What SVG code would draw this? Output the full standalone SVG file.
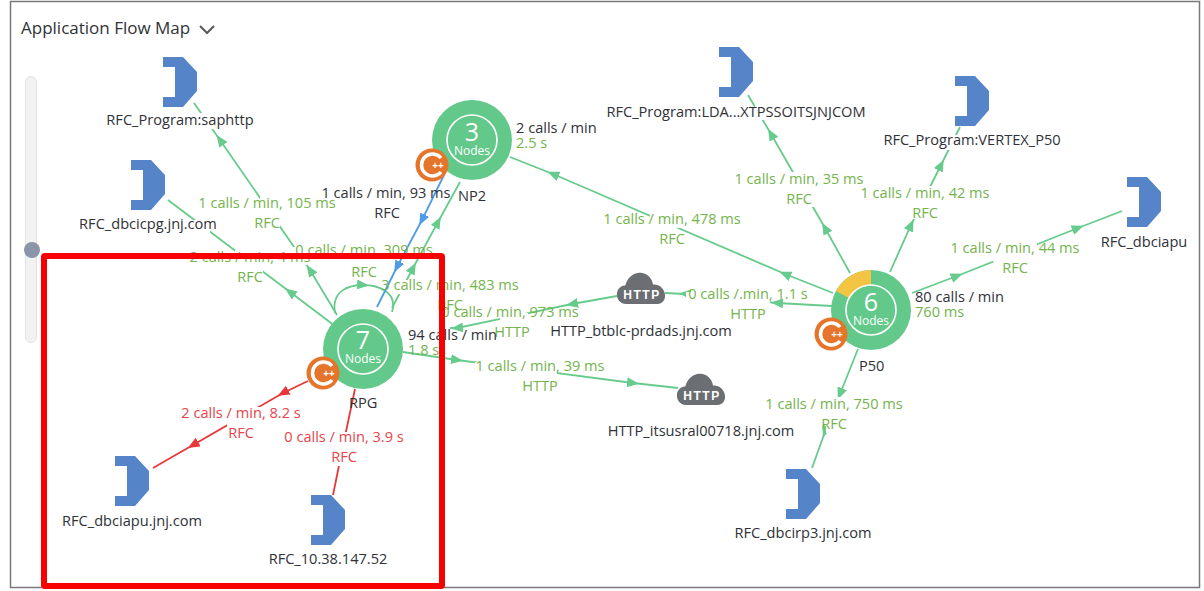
<svg xmlns="http://www.w3.org/2000/svg" width="1204" height="591" viewBox="0 0 1204 591">
<style>
text{font-family:"Open Sans","Noto Sans","Liberation Sans",sans-serif;font-size:14.600px;fill:#2f3238}
.m{text-anchor:middle}
text.lab{fill:#74b44c}
text.red{fill:#e6444a}
.e{fill:none;stroke:#66cb8c;stroke-width:1.800;marker-mid:url(#ag)}
.eb{fill:none;stroke:#4f9be8;stroke-width:1.800;marker-mid:url(#ab)}
.er{fill:none;stroke:#e8383a;stroke-width:1.800;marker-mid:url(#ar)}
.gap{fill:#fff}
.ball{fill:#62c98a}
.ring{fill:none;stroke:#fff;stroke-width:1.600}
text.num{fill:#fff;font-size:25px;text-anchor:middle}
text.nd{fill:#fff;font-size:12px;text-anchor:middle}
text.cl{fill:#fff;font-family:"Liberation Sans",sans-serif;font-size:12px;font-weight:700;text-anchor:middle;letter-spacing:1.500px}
</style>
<defs>
<marker id="ag" markerUnits="userSpaceOnUse" markerWidth="14" markerHeight="12" refX="6" refY="5" orient="auto"><path d="M0,0L12,5L0,10Z" fill="#66cb8c"/></marker>
<marker id="ab" markerUnits="userSpaceOnUse" markerWidth="14" markerHeight="12" refX="6" refY="5" orient="auto"><path d="M0,0L12,5L0,10Z" fill="#4f9be8"/></marker>
<marker id="ar" markerUnits="userSpaceOnUse" markerWidth="14" markerHeight="12" refX="6" refY="5" orient="auto"><path d="M0,0L12,5L0,10Z" fill="#e8383a"/></marker>
<path id="bk" d="M0,0H20L34,15V34L20,50H0V40H12V10H0Z" fill="#5585c8"/>
<path id="cloud" d="M12,38C4,38 -1,32 0,25C1,19 6,16 11,16C14,6 23,0 32,1C41,2 47,8 48,15C55,14 63,19 64,27C65,33 60,38 54,38Z" transform="scale(0.75,0.84)" fill="#6b6e72"/>
<g id="cpp"><circle r="16.500" fill="#e4752a"/><path d="M9,-7A11,11 0 1 0 9,7" fill="none" stroke="#fff" stroke-width="3.500"/><text x="6" y="4" style="fill:#fff;font-size:10px;font-weight:700;text-anchor:middle">++</text></g>
</defs>
<rect width="1204" height="591" fill="#fff"/>
<rect x="10.500" y="1.500" width="1189" height="586" fill="#fff" stroke="#77797c" stroke-width="1.500"/>
<text x="21" y="34" style="font-size:17px">Application Flow Map</text>
<path d="M200,26L207,33L214,26" fill="none" stroke="#55585c" stroke-width="2"/>
<rect x="25.500" y="76.500" width="11" height="266" rx="5.500" fill="#f2f2f2" stroke="#e2e2e2"/>
<circle cx="32" cy="250" r="8" fill="#8b95a8"/>

<g id="connectors">
<polyline class="e" points="337,315 310,270 220,140 194,103"/>
<polyline class="e" points="335,326 290,292 168,200"/>
<path class="e" style="marker-mid:none" d="M335,313C331,290 350,285 363,285C378,285 398,292 392,312"/>
<polyline class="e" points="361,285 363,285 366,285.500"/>
<polyline class="eb" points="444,175 422,220 397,267 377,307"/>
<polyline class="e" points="392,308 413,268 438,222 460,182"/>
<polyline class="e" points="833,293 785,274 553,174 510,157"/>
<polyline class="e" points="850,273 825,228 771,134 748,95"/>
<polyline class="e" points="890,272 911,225 941,165 960,127"/>
<polyline class="e" points="912,293 957,276 1078,228 1122,211"/>
<polyline class="e" points="832,306 777,303 685,294 665,293"/>
<polyline class="e" points="617,296 572,304 457,328 450,328"/>
<polyline class="e" points="403,352 457,360 633,383 678,388"/>
<polyline class="er" points="308,381 283,393 193,445 153,468"/>
<polyline class="er" points="355,389 344,441 333,495"/>
<polyline class="e" points="858,349 840,394 825,432 812,468"/>
<g class="gap">
<rect x="790" y="172" width="26" height="35"/>
<rect x="908" y="186" width="28" height="33"/>
<rect x="993" y="242" width="44" height="20"/>
<rect x="826" y="397" width="18" height="36"/>
<rect x="335" y="432" width="16" height="34"/>
<rect x="227" y="407" width="36" height="20"/>
<rect x="260" y="197" width="20" height="30"/>
<rect x="235" y="250" width="28" height="23"/>
<rect x="193" y="220" width="17" height="13"/>
<rect x="293" y="247" width="14" height="18"/>
<rect x="200" y="113" width="15" height="16"/>
<rect x="650" y="215" width="33" height="13"/>
<rect x="686" y="292" width="84" height="13"/>
<rect x="500" y="313" width="28" height="9"/>
<rect x="475" y="362" width="82" height="12"/>
<rect x="398" y="280" width="20" height="14"/>
<rect x="755" y="103" width="12" height="17"/>
<rect x="940" y="135" width="20" height="15"/>
</g>
</g>

<g id="labels">
<text class="lab m" x="267" y="208">1 calls / min, 105 ms</text><text class="lab m" x="267" y="228">RFC</text>
<text class="lab m" x="250" y="262">2 calls / min, 4 ms</text><text class="lab m" x="250" y="282">RFC</text>
<text class="lab m" x="364" y="255">0 calls / min, 309 ms</text><text class="lab m" x="364" y="277">RFC</text>
<text class="m" x="386" y="198">1 calls / min, 93 ms</text><text class="m" x="387" y="218">RFC</text>
<text class="lab m" x="450" y="290">3 calls / min, 483 ms</text><text class="lab m" x="450" y="310">RFC</text>
<text class="lab m" x="510" y="317">0 calls / min, 973 ms</text><text class="lab m" x="512" y="337">HTTP</text>
<text class="lab m" x="540" y="371">1 calls / min, 39 ms</text><text class="lab m" x="540" y="391">HTTP</text>
<text class="lab m" x="748" y="299">0 calls /.min, 1.1 s</text><text class="lab m" x="748" y="319">HTTP</text>
<text class="lab m" x="672" y="224">1 calls / min, 478 ms</text><text class="lab m" x="672" y="244">RFC</text>
<text class="lab m" x="799" y="184">1 calls / min, 35 ms</text><text class="lab m" x="799" y="204">RFC</text>
<text class="lab m" x="925" y="198">1 calls / min, 42 ms</text><text class="lab m" x="925" y="218">RFC</text>
<text class="lab m" x="1015" y="253">1 calls / min, 44 ms</text><text class="lab m" x="1015" y="273">RFC</text>
<text class="lab m" x="834" y="409">1 calls / min, 750 ms</text><text class="lab m" x="834" y="429">RFC</text>
<text class="red m" x="241" y="418">2 calls / min, 8.2 s</text><text class="red m" x="241" y="438">RFC</text>
<text class="red m" x="344" y="442">0 calls / min, 3.9 s</text><text class="red m" x="344" y="462">RFC</text>
</g>

<g id="n-saphttp"><use href="#bk" x="163" y="57"/><text class="m" x="180" y="125">RFC_Program:saphttp</text></g>
<g id="n-dbcicpg"><use href="#bk" x="131" y="160"/><text class="m" x="148" y="229">RFC_dbcicpg.jnj.com</text></g>
<g id="n-lda"><use href="#bk" x="719" y="47"/><text class="m" x="736" y="117">RFC_Program:LDA...XTPSSOITSJNJCOM</text></g>
<g id="n-vertex"><use href="#bk" x="955" y="76"/><text class="m" x="972" y="145">RFC_Program:VERTEX_P50</text></g>
<g id="n-dbciapu"><use href="#bk" x="1127" y="177"/><text class="m" x="1144" y="247">RFC_dbciapu</text></g>
<g id="n-dbciapujnj"><use href="#bk" x="115" y="456"/><text class="m" x="132" y="526">RFC_dbciapu.jnj.com</text></g>
<g id="n-ip"><use href="#bk" x="311" y="495"/><text class="m" x="328" y="564">RFC_10.38.147.52</text></g>
<g id="n-dbcirp3"><use href="#bk" x="786" y="469"/><text class="m" x="803" y="538">RFC_dbcirp3.jnj.com</text></g>

<g id="n-http1"><use href="#cloud" x="617" y="272"/><text class="cl" x="642" y="299">HTTP</text><text class="m" x="641" y="336">HTTP_btblc-prdads.jnj.com</text></g>
<g id="n-http2"><use href="#cloud" x="677" y="373"/><text class="cl" x="702" y="400">HTTP</text><text class="m" x="701" y="436">HTTP_itsusral00718.jnj.com</text></g>

<g id="n-np2"><circle class="ball" cx="472" cy="140" r="40"/><circle class="ring" cx="472" cy="140" r="25"/><text class="num" x="472" y="141">3</text><text class="nd" x="472" y="155">Nodes</text><use href="#cpp" x="432" y="165"/><text x="458" y="201">NP2</text><text x="516" y="133">2 calls / min</text><text class="lab" x="516" y="148">2.5 s</text></g>
<g id="n-rpg"><circle class="ball" cx="363" cy="349" r="40"/><circle class="ring" cx="363" cy="349" r="25"/><text class="num" x="363" y="349">7</text><text class="nd" x="363" y="363">Nodes</text><use href="#cpp" x="323" y="373"/><text x="349" y="408">RPG</text><text x="408" y="340">94 calls / min</text><text class="lab" x="408" y="355">1.8 s</text></g>
<g id="n-p50"><circle class="ball" cx="871" cy="310" r="40"/><path d="M871,310V270A40,40 0 0 0 836,291Z" fill="#f4c542"/><circle class="ball" cx="871" cy="310" r="25"/><circle class="ring" cx="871" cy="310" r="25"/><text class="num" x="871" y="311">6</text><text class="nd" x="871" y="325">Nodes</text><use href="#cpp" x="831" y="334"/><text x="859" y="371">P50</text><text x="915" y="302">80 calls / min</text><text class="lab" x="915" y="317">760 ms</text></g>

<rect x="44" y="256" width="398" height="330" fill="none" stroke="#f60000" stroke-width="6" rx="1"/>
</svg>
